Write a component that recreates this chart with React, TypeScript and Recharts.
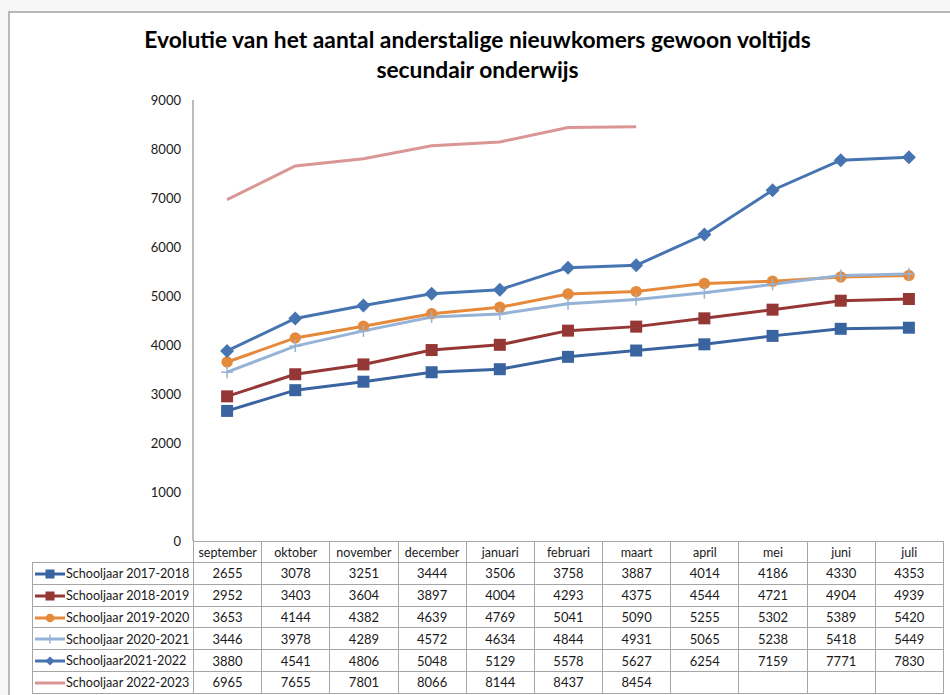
import { LineChart, Line, XAxis, YAxis } from "recharts";

const months = [
  "september", "oktober", "november", "december", "januari", "februari",
  "maart", "april", "mei", "juni", "juli",
];

const sj1718 = [2655, 3078, 3251, 3444, 3506, 3758, 3887, 4014, 4186, 4330, 4353];
const sj1819 = [2952, 3403, 3604, 3897, 4004, 4293, 4375, 4544, 4721, 4904, 4939];
const sj1920 = [3653, 4144, 4382, 4639, 4769, 5041, 5090, 5255, 5302, 5389, 5420];
const sj2021 = [3446, 3978, 4289, 4572, 4634, 4844, 4931, 5065, 5238, 5418, 5449];
const sj2122 = [3880, 4541, 4806, 5048, 5129, 5578, 5627, 6254, 7159, 7771, 7830];
const sj2223 = [6965, 7655, 7801, 8066, 8144, 8437, 8454, null, null, null, null];

const yTicks = [0, 1000, 2000, 3000, 4000, 5000, 6000, 7000, 8000, 9000];

type Marker = "square" | "circle" | "plus" | "diamond" | "none";

interface Serie {
  key: string;
  name: string;
  color: string;
  marker: Marker;
  values: (number | null)[];
}

const series: Serie[] = [
  { key: "s1", name: "Schooljaar 2017-2018", color: "#3a64a0", marker: "square", values: sj1718 },
  { key: "s2", name: "Schooljaar 2018-2019", color: "#953735", marker: "square", values: sj1819 },
  { key: "s3", name: "Schooljaar 2019-2020", color: "#e5893a", marker: "circle", values: sj1920 },
  { key: "s4", name: "Schooljaar 2020-2021", color: "#95b3d7", marker: "plus", values: sj2021 },
  { key: "s5", name: "Schooljaar2021-2022", color: "#4674b1", marker: "diamond", values: sj2122 },
  { key: "s6", name: "Schooljaar 2022-2023", color: "#d99694", marker: "none", values: sj2223 },
];

const data = months.map((m, i) => {
  const row: Record<string, string | number | null> = { month: m };
  series.forEach((s) => {
    row[s.key] = s.values[i];
  });
  return row;
});

const FONT = "Lato, 'Open Sans', sans-serif";
const PLOT_LEFT = 193;
const PLOT_RIGHT = 943;
const COL_W = (PLOT_RIGHT - PLOT_LEFT) / months.length;

const MarkerShape = ({ cx, cy, type, color, size }: { cx: number; cy: number; type: Marker; color: string; size: number }) => {
  const h = size / 2;
  if (type === "square") {
    return <rect x={cx - h} y={cy - h} width={size} height={size} fill={color} />;
  }
  if (type === "circle") {
    return <circle cx={cx} cy={cy} r={h * 0.95} fill={color} />;
  }
  if (type === "diamond") {
    return (
      <polygon
        points={`${cx},${cy - h} ${cx + h},${cy} ${cx},${cy + h} ${cx - h},${cy}`}
        fill={color}
      />
    );
  }
  if (type === "plus") {
    return (
      <g stroke={color} strokeWidth={1.5}>
        <line x1={cx} y1={cy - h} x2={cx} y2={cy + h} />
        <line x1={cx - h} y1={cy} x2={cx + h} y2={cy} />
      </g>
    );
  }
  return null;
};

const makeDot = (s: Serie) => (props: any) => {
  const { cx, cy, index } = props;
  if (cx == null || cy == null || props.value == null) return <g key={`${s.key}-${index}`} />;
  const size = s.marker === "diamond" ? 14 : 12;
  return (
    <g key={`${s.key}-${index}`}>
      <MarkerShape cx={cx} cy={cy} type={s.marker} color={s.color} size={size} />
    </g>
  );
};

const cellBorder = "1px solid #a6a6a6";

const DataTable = () => (
  <table
    style={{
      position: "absolute",
      left: 32,
      top: 541,
      borderCollapse: "collapse",
      tableLayout: "fixed",
      width: PLOT_RIGHT - 32,
      fontFamily: FONT,
      color: "#1a1a1a",
    }}
  >
    <colgroup>
      <col style={{ width: PLOT_LEFT - 32 }} />
      {months.map((m) => (
        <col key={m} style={{ width: COL_W }} />
      ))}
    </colgroup>
    <tbody>
      <tr style={{ height: 21 }}>
        <td style={{ padding: 0 }} />
        {months.map((m) => (
          <td
            key={m}
            style={{ border: cellBorder, textAlign: "center", fontSize: 12.5, padding: 0 }}
          >
            {m}
          </td>
        ))}
      </tr>
      {series.map((s) => (
        <tr key={s.key} style={{ height: 21.8 }}>
          <td style={{ border: cellBorder, padding: 0, fontSize: 12.6, whiteSpace: "nowrap", overflow: "hidden" }}>
            <svg width={32} height={14} style={{ verticalAlign: "middle", marginLeft: 1 }}>
              <line x1={1} y1={7} x2={31} y2={7} stroke={s.color} strokeWidth={3} />
              <MarkerShape cx={16} cy={7} type={s.marker} color={s.color} size={9} />
            </svg>
            <span style={{ verticalAlign: "middle" }}>{s.name}</span>
          </td>
          {s.values.map((v, i) => (
            <td
              key={i}
              style={{ border: cellBorder, textAlign: "center", fontSize: 13, padding: 0 }}
            >
              {v == null ? "" : v}
            </td>
          ))}
        </tr>
      ))}
    </tbody>
  </table>
);

export default function App() {
  return (
    <div
      style={{
        position: "absolute",
        left: 0,
        top: 0,
        width: 950,
        height: 695,
        background: "#f6f6f6",
        overflow: "hidden",
      }}
    >
      <div
        style={{
          position: "absolute",
          left: 8,
          top: 11,
          width: 960,
          height: 700,
          background: "#ffffff",
          borderTop: "2px solid #b8b8b8",
          borderLeft: "2px solid #b8b8b8",
        }}
      />
      <div
        style={{
          position: "absolute",
          left: 0,
          top: 24,
          width: 955,
          textAlign: "center",
          fontFamily: FONT,
          fontWeight: 700,
          fontSize: 22.8,
          lineHeight: "30px",
          color: "#000",
        }}
      >
        Evolutie van het aantal anderstalige nieuwkomers gewoon voltijds
        <br />
        secundair onderwijs
      </div>
      <div style={{ position: "absolute", left: 0, top: 0 }}>
        <LineChart
          width={950}
          height={695}
          data={data}
          margin={{ top: 100, right: 950 - PLOT_RIGHT, bottom: 695 - 541, left: PLOT_LEFT - 50 }}
        >
          <XAxis
            dataKey="month"
            hide
            padding={{ left: COL_W / 2, right: COL_W / 2 }}
          />
          <YAxis
            width={50}
            domain={[0, 9000]}
            ticks={yTicks}
            interval={0}
            tickLine={false}
            tickMargin={6}
            axisLine={{ stroke: "#a6a6a6", strokeWidth: 1.5 }}
            tick={{ fontSize: 13, fill: "#1a1a1a", fontFamily: FONT }}
          />
          {series.map((s) => (
            <Line
              key={s.key}
              dataKey={s.key}
              name={s.name}
              type="linear"
              stroke={s.color}
              strokeWidth={3}
              dot={s.marker === "none" ? false : makeDot(s)}
              activeDot={false}
              connectNulls={false}
              isAnimationActive={false}
            />
          ))}
        </LineChart>
      </div>
      <DataTable />
    </div>
  );
}
